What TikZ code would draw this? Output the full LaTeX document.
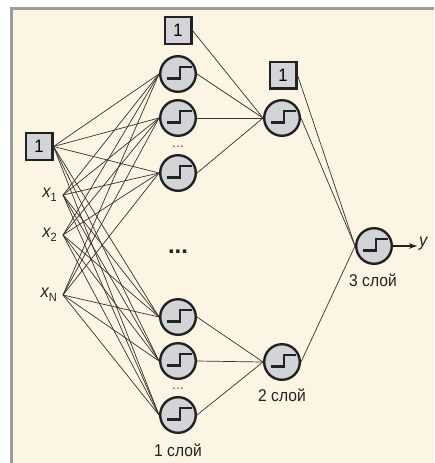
\documentclass[tikz,border=0pt]{standalone}
\usepackage{fontspec}
\setmainfont{Liberation Sans}
\newfontfamily\condfont[FakeStretch=0.92]{Liberation Sans}
\usetikzlibrary{arrows.meta}
\definecolor{bgc}{HTML}{FDF5E3}
\definecolor{framec}{HTML}{9C9C9C}
\definecolor{neuc}{HTML}{D3D4D8}
\definecolor{edgec}{HTML}{222222}
\definecolor{linec}{HTML}{333333}
\definecolor{dotc}{HTML}{555555}
\tikzset{
  neuron/.style={circle, draw=edgec, line width=2.4pt, fill=neuc, minimum size=35.6pt, inner sep=0pt,
    path picture={\draw[line width=2.5pt, edgec]
      ([xshift=-11.3pt,yshift=-4.7pt]path picture bounding box.center) -- ++(13.3pt,0pt) -- ++(0pt,11.7pt) -- ++(11.7pt,0pt);}},
  biasbox/.style={rectangle, draw=edgec, line width=2.2pt, fill=neuc, minimum size=26.8pt, inner sep=0pt,
    font=\condfont\fontsize{18}{18}\selectfont},
  conn/.style={draw=linec, line width=0.7pt},
  lbl/.style={font=\condfont\fontsize{17}{17}\selectfont, inner sep=0pt, text=edgec},
  inlbl/.style={font=\condfont\fontsize{18}{18}\selectfont\itshape, inner sep=0pt, anchor=east, text=edgec}
}
\newcommand{\subsc}[1]{\raisebox{-4pt}{\fontsize{12}{12}\selectfont\upshape #1}}
\begin{document}
\begin{tikzpicture}[x=1pt,y=-1pt]
\useasboundingbox (0,0) rectangle (434,463);
\fill[white] (0,0) rectangle (434,463);
\fill[bgc] (11.5,8.5) rectangle (434,463);
\draw[framec, line width=3pt] (11.5,463) -- (11.5,8.5) -- (434,8.5);

% inputs
\node[biasbox] (b0) at (39,146.5) {1};
\coordinate (x1) at (63,195);
\coordinate (x2) at (63,235);
\coordinate (xN) at (63,295);
\node[inlbl] (lx1) at (57,195) {x\subsc{1}};
\node[inlbl] (lx2) at (57,235) {x\subsc{2}};
\node[inlbl] (lxN) at (57,295) {x\subsc{N}};

% layer 1
\node[neuron] (n1) at (178,74) {};
\node[neuron] (n2) at (178,118) {};
\node[neuron] (n3) at (178,173) {};
\node[neuron] (n4) at (178,317) {};
\node[neuron] (n5) at (178,361) {};
\node[neuron] (n6) at (178,415) {};
\node[biasbox] (b1) at (178,30.5) {1};

\node[font=\fontsize{14}{14}\selectfont, text=dotc, anchor=base, inner sep=0pt] (d1) at (178,147) {...};
\node[font=\fontsize{14}{14}\selectfont, text=dotc, anchor=base, inner sep=0pt] (d2) at (178,389) {...};
\node[font=\fontsize{24}{24}\selectfont\bfseries, text=edgec, anchor=base, inner sep=0pt] (d3) at (178,253) {...};

% layer 2
\node[biasbox] (b2) at (283,75) {1};
\node[neuron] (m1) at (282,118) {};
\node[neuron] (m2) at (282,362) {};

% layer 3
\node[neuron] (o) at (374,246) {};
\coordinate (yend) at (417,246);
\node[inlbl, anchor=west] (ly) at (419,244) {y};

% labels
\node[lbl] (l1) at (178,450) {1 слой};
\node[lbl] (l2) at (282,395) {2 слой};
\node[lbl] (l3) at (373,280) {3 слой};

% connections
\foreach \s in {b0.east,x1,x2,xN}
  \foreach \t in {n1,n2,n3,n4,n5,n6}
    \draw[conn] (\s) -- (\t.west);
\foreach \s in {b1.east,n1.east,n2.east,n3.east}
  \draw[conn] (\s) -- (m1.west);
\foreach \s in {n4.east,n5.east,n6.east}
  \draw[conn] (\s) -- (m2.west);
\foreach \s in {b2.east,m1.east,m2.east}
  \draw[conn] (\s) -- (o.west);
\draw[edgec, line width=1.1pt, -{Stealth[length=8pt,width=5.5pt]}] (o.east) -- (yend);
\end{tikzpicture}
\end{document}
